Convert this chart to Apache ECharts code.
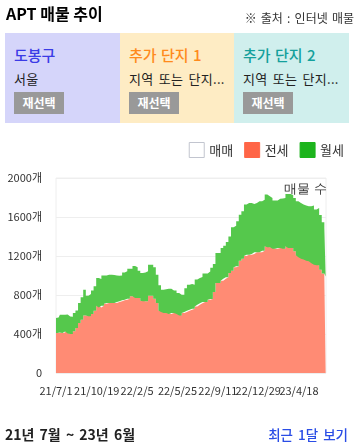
<!DOCTYPE html>
<html><head><meta charset="utf-8">
<script src="https://cdn.jsdelivr.net/npm/echarts@6/dist/echarts.min.js"></script>
<style>
html,body{margin:0;padding:0;width:358px;height:447px;overflow:hidden;background:#fff;font-family:'Noto Sans CJK KR','Noto Sans',sans-serif;}
#chart{position:absolute;left:0;top:0;width:358px;height:447px;}
.abs{position:absolute;white-space:nowrap;}
.title{left:6px;top:2px;font-size:16px;font-weight:bold;color:#000;line-height:22px;}
.src{right:4px;top:9px;font-size:12px;color:#333;line-height:18px;word-spacing:1.5px;}
.panel{top:33px;height:90px;width:115px;}
.ptitle{position:absolute;left:9px;top:12px;font-size:15px;line-height:20px;font-weight:500;word-spacing:1px;}
.psub{position:absolute;left:9px;top:37px;font-size:13px;color:#222;line-height:18px;word-spacing:2px;letter-spacing:0.3px;}
.btn{position:absolute;left:9px;top:59px;width:50px;height:22px;background:#999;color:#fff;font-size:12px;font-weight:bold;text-align:center;line-height:22px;}
.period{left:5px;top:424px;font-size:14px;font-weight:bold;color:#222;line-height:20px;word-spacing:2px;}
.recent{right:10px;top:424px;font-size:13.5px;color:#2a4de6;line-height:20px;font-weight:500;word-spacing:2px;}
</style></head><body>
<div id="chart"></div>
<div class="abs title">APT 매물 추이</div>
<div class="abs src">※ 출처 : 인터넷 매물</div>
<div class="abs panel" style="left:5px;background:#d5d5fa;">
  <div class="ptitle" style="color:#3b3be6;">도봉구</div>
  <div class="psub">서울</div>
  <div class="btn">재선택</div>
</div>
<div class="abs panel" style="left:120px;width:114px;background:#feecc4;">
  <div class="ptitle" style="color:#ff8a1c;">추가 단지 1</div>
  <div class="psub">지역 또는 단지...</div>
  <div class="btn">재선택</div>
</div>
<div class="abs panel" style="left:234px;background:#d0efed;">
  <div class="ptitle" style="color:#14a09c;">추가 단지 2</div>
  <div class="psub">지역 또는 단지...</div>
  <div class="btn">재선택</div>
</div>
<div class="abs period">21년 7월 ~ 23년 6월</div>
<div class="abs recent">최근 1달 보기</div>
<script>
// daily categories 2021-07-01 .. 2023-06-30; values sampled weekly (every 7th day)
const startDate = [2021, 6, 1];
const endDate = [2023, 5, 30];
const stepDays = 7;
const legendNames = ['매매', '전세', '월세'];
const tickLabels = ['21/7/1','21/10/19','22/2/5','22/5/25','22/9/11','22/12/29','23/4/18'];
const yTicks = [0, 400, 800, 1200, 1600, 2000];

const maemae = [];
const jeonse = [410,410,415,410,425,405,400,427,462,513,547,591,591,581,605,639,690,673,690,711,
  718,718,718,718,728,735,745,752,762,786,786,769,769,742,735,735,793,793,762,718,
  640,626,615,615,605,615,615,605,591,615,626,639,649,660,683,700,715,728,728,752,
  760,831,923,923,947,967,981,1026,1050,1084,1094,1152,1173,1200,1214,1214,1221,1238,1238,1238,
  1255,1299,1289,1289,1275,1275,1282,1282,1275,1299,1282,1282,1248,1207,1187,1173,1163,1152,1145,1125,
  1111,1104,1060,1020,991];
const wolse = [155,160,183,188,175,175,178,188,178,205,229,264,202,229,240,250,285,291,311,290,
  290,290,287,282,270,265,285,291,308,284,312,315,281,284,295,308,318,318,322,290,
  260,229,245,250,260,230,230,216,212,188,244,267,264,245,277,275,270,292,292,288,
  320,287,308,308,336,339,363,374,444,426,462,472,485,527,530,530,513,506,523,523,
  523,531,523,507,493,493,506,508,521,538,555,540,548,554,557,554,554,558,565,592,
  565,589,560,525,497];

const DAY = 86400000;
const t0 = Date.UTC(startDate[0], startDate[1], startDate[2]);
const t1 = Date.UTC(endDate[0], endDate[1], endDate[2]);
const days = [];
for (let t = t0; t <= t1; t += DAY) {
  const d = new Date(t);
  days.push(String(d.getUTCFullYear()).slice(2) + '/' + (d.getUTCMonth()+1) + '/' + d.getUTCDate());
}
const tickSet = new Set(tickLabels);

const jData = jeonse.map((v,i)=>[i*stepDays, v]);
const wData = wolse.map((v,i)=>[i*stepDays, v]);

const chart = echarts.init(document.getElementById('chart'));
const font = "'Noto Sans CJK KR','Noto Sans',sans-serif";
chart.setOption({
  animation: false,
  textStyle: {fontFamily: font},
  grid: {left: 56, right: 32, top: 178, bottom: 74, show: true, borderColor: '#eeeeee', borderWidth: 1},
  legend: {
    right: 14, top: 142, icon: 'rect', itemWidth: 15, itemHeight: 15, itemGap: 11, padding: 0,
    textStyle: {fontSize: 13, color: '#333', fontFamily: font},
    data: [
      {name: legendNames[0], itemStyle: {color: '#ffffff', borderColor: '#c2c5cf', borderWidth: 1}},
      {name: legendNames[1], itemStyle: {color: '#ff6547', borderColor: '#ff6547', borderWidth: 1}},
      {name: legendNames[2], itemStyle: {color: '#1db41d', borderColor: '#1db41d', borderWidth: 1}}
    ]
  },
  xAxis: {
    type: 'category', data: days, boundaryGap: false,
    axisLine: {show: false}, axisTick: {show: false}, splitLine: {show: false},
    axisLabel: {
      interval: 0,
      formatter: val => tickSet.has(val) ? val : '',
      fontSize: 11, color: '#333', margin: 12, hideOverlap: false
    }
  },
  yAxis: {
    type: 'value', min: yTicks[0], max: yTicks[yTicks.length-1], interval: 400,
    axisLine: {show: false}, axisTick: {show: false},
    splitLine: {lineStyle: {color: '#eeeeee'}},
    axisLabel: {fontSize: 11, color: '#333', margin: 14, formatter: v => v === 0 ? '0' : v + '개'}
  },
  graphic: [{type: 'text', right: 31, top: 183, style: {text: '매물 수', fontSize: 13, fill: '#333', font: "13px " + font}}],
  series: [
    {name: legendNames[0], type: 'line', data: maemae, itemStyle: {color: '#ffffff'}},
    {name: legendNames[1], type: 'line', stack: 'total', step: 'middle', symbol: 'none',
      lineStyle: {width: 0}, itemStyle: {color: '#ff6547'}, areaStyle: {color: '#ff8b74', opacity: 1}, data: jData},
    {name: legendNames[2], type: 'line', stack: 'total', step: 'middle', symbol: 'none',
      lineStyle: {width: 0}, itemStyle: {color: '#1db41d'}, areaStyle: {color: '#55c84c', opacity: 1}, data: wData}
  ]
});
</script>
</body></html>
